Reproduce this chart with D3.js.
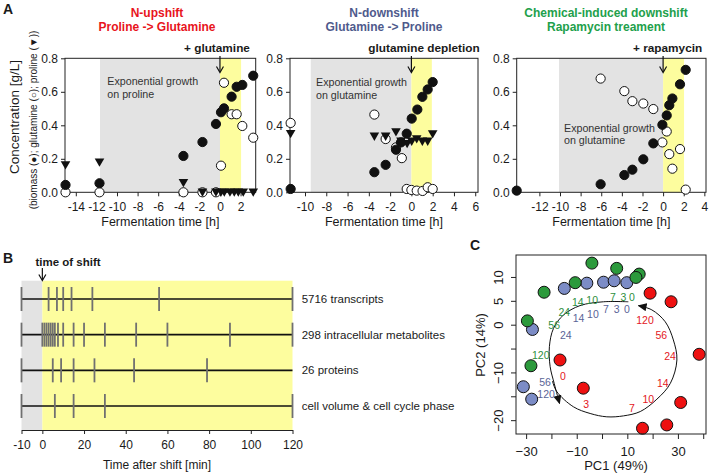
<!DOCTYPE html>
<html><head><meta charset="utf-8">
<script src="https://cdn.jsdelivr.net/npm/d3@7"></script>
<style>body{margin:0;background:#fff}svg{display:block}text{font-family:"Liberation Sans",Arial,sans-serif;fill:#1a1a1a}</style>
</head><body><svg id="c" width="709" height="475"></svg>
<script>
// ---------- Panel A data: [time h, concentration g/L] ----------
const upBiomass   = [[-15,0.044],[-11.7,0.054],[-3.55,0.217],[-1.7,0.30],[-0.39,0.408],[0.1,0.478],[0.39,0.501],[1.13,0.571],[1.62,0.63],[2.17,0.641],[3.23,0.696]];
const upGlutamine = [[-15,0],[-11.7,0],[-3.55,0],[-1.7,0],[-0.39,0],[0.1,0.159],[0.39,0.654],[1.13,0.466],[1.62,0.466],[2.17,0.396],[3.23,0.326]];
const upProline   = [[-15,0.163],[-11.7,0.179],[-3.55,0.057],[-1.7,0],[-0.39,0],[0.1,0],[0.42,0],[0.97,0],[1.39,0],[1.78,0],[2.26,0],[3.23,0]];

const downBiomass   = [[-11.35,0.02],[-3.48,0.12],[-2.42,0.164],[-1.45,0.254],[-0.98,0.298],[-0.44,0.35],[0.03,0.44],[0.56,0.494],[1.03,0.57],[1.53,0.614],[2.0,0.658]];
const downGlutamine = [[-11.35,0.414],[-3.48,0.464],[-2.42,0.318],[-1.45,0.268],[-0.9,0.204],[-0.44,0.02],[0.0,0.014],[0.5,0.01],[1.05,0.008],[1.53,0.03],[2.0,0.02]];
const downProline   = [[-11.35,0.35],[-3.48,0.334],[-2.42,0.334],[-1.45,0.36],[-0.98,0.304],[-0.4,0.29],[0.03,0.304],[0.5,0.318],[1.03,0.304],[1.53,0.304],[2.0,0.348]];

const rapaBiomass   = [[-14.2,0.01],[-6.06,0.048],[-3.76,0.103],[-2.98,0.135],[-1.92,0.197],[-0.95,0.292],[-0.07,0.403],[0.35,0.459],[0.6,0.52],[0.9,0.56],[1.64,0.645],[2.19,0.731]];
const rapaGlutamine = [[-6.06,0.679],[-3.76,0.604],[-2.98,0.544],[-1.92,0.53],[-0.95,0.497],[-0.07,0.298],[0.35,0.363],[0.6,0.228],[0.9,0.141],[1.64,0.258],[2.19,0.016]];

const yTicksA = [0, 0.2, 0.4, 0.6, 0.8];
const xTicksUp = [-14,-12,-10,-8,-6,-4,-2,0,2];
const xTicksDown = [-10,-8,-6,-4,-2,0,2,4,6];
const xTicksRapa = [-12,-10,-8,-6,-4,-2,0,2,4];
const titlesA = [["N-upshift","Proline -> Glutamine"],["N-downshift","Glutamine -> Proline"],["Chemical-induced downshift","Rapamycin treament"]];
const eventsA = ["+ glutamine","glutamine depletion","+ rapamycin"];
const growthText = [["Exponential growth","on proline"],["Exponential growth","on glutamine"],["Exponential growth","on glutamine"]];

// ---------- Panel B data ----------
const bRows = ["5716 transcripts","298 intracellular metabolites","26 proteins","cell volume & cell cycle phase"];
const bTimes = [
  [-10,3,7,10,14,24,56,120],
  [-10,0,1,2,3,4,5,6,7.5,10,15,20,30,45,60,90,120],
  [-10,5,9,15,25,44,79],
  [-10,6,15,30,120]
];
const bTicks = [-10,0,20,40,60,80,100,120];

// ---------- Panel C data: [PC1, PC2] ----------
const pcaGreen = [[-4.0,12.9],[5.8,11.8],[14.7,10.6],[13.4,9.9],[-10.6,8.8],[-22.9,6.8],[-29.5,0.8],[-28.1,-8.6]];
const pcaBlue  = [[-14.9,7.6],[-6.0,8.7],[0.6,8.9],[4.8,9.2],[9.8,8.8],[-27.5,-1.0],[-31.1,-13.0],[-27.8,-15.6]];
const pcaRed   = [[19.0,6.6],[27.3,4.8],[38.4,-6.2],[-16.6,-7.4],[-7.4,-13.3],[31.1,-16.3],[25.6,-21.0],[16.0,-21.7]];
const timeLabels = ["0","3","7","10","14","24","56","120"];
const greenLabelPos = [[11.8,5.7],[8.5,5.7],[4.3,5.7],[-3.9,5.0],[-9.6,4.7],[-14.9,2.5],[-18.9,-0.1],[-24.2,-6.4]];
const blueLabelPos  = [[9.8,3.1],[5.8,3.1],[1.5,3.1],[-3.6,2.1],[-9.3,1.3],[-14.3,-2.3],[-22.5,-12.1],[-22.1,-14.7]];
const redLabelPos   = [[-15.5,-10.9],[-6.3,-16.8],[11.8,-17.5],[18.3,-15.6],[24.0,-12.4],[26.9,-6.7],[23.4,-2.2],[17.0,0.8]];
const arrowLeft  = [[10.4,4.8],[0.6,4.8],[-8.7,4.0],[-15.3,2.0],[-19.2,-0.8],[-20.8,-4.6],[-20.5,-8.8],[-18.9,-12.3],[-16.8,-16.5]];
const arrowRight = [[-19.6,-11.8],[-17.9,-14.0],[-11.3,-17.2],[-4.7,-18.6],[1.9,-19.3],[8.5,-19.1],[15.1,-18.2],[21.7,-15.6],[27.0,-12.3],[29.6,-7.4],[28.2,-3.2],[25.0,0.6],[19.7,3.1],[14.4,4.0]];
const pcaXTicks = [-30,-20,-10,0,10,20,30,40];
const pcaXLabels = [-30,-10,10,30];
const pcaYTicks = [-20,-15,-10,-5,0,5,10];
const pcaYLabels = [-20,-10,0,5,10];

// ---------- drawing ----------
const svg = d3.select("#c");
svg.append("rect").attr("width",709).attr("height",475).attr("fill","#fff");
const GRAY="#e3e3e3", YEL="#fdfd9e";
const RED="#e8141c", BLUE="#4f5a8c", GREEN="#22a04b";
const FF='"Liberation Sans",Arial,sans-serif';
const hyph = d => String(d);

function txt(x,y,s,size,opts={}){
  const t = svg.append("text").attr("x",x).attr("y",y).text(s).style("font-size",size+"px");
  if(opts.anchor) t.attr("text-anchor",opts.anchor);
  if(opts.bold) t.style("font-weight","bold");
  if(opts.fill) t.style("fill",opts.fill);
  if(opts.rotate) t.attr("transform",`rotate(-90,${x},${y})`);
  return t;
}

txt(3,14,"A",14,{bold:true});
txt(3,263,"B",14,{bold:true});
txt(470,250,"C",14,{bold:true});

const yA = d3.scaleLinear().domain([0,0.8]).range([192.3,58.3]);
const panelsA = [
  {range:[65,255.7], domain:[-15.05,3.47], ticks:xTicksUp, gray:-11.65, yel:2.05, col:RED, tcx:157, ecx:-3, g:[107.3,85,98], bio:upBiomass, gln:upGlutamine, pro:upProline},
  {range:[290,478], domain:[-11.41,6.26], ticks:xTicksDown, gray:-9.46, yel:1.92, col:BLUE, tcx:384, ecx:12.6, g:[316,86,98.5], bio:downBiomass, gln:downGlutamine, pro:downProline},
  {range:[516.7,706], domain:[-14.2,4.16], ticks:xTicksRapa, gray:-10.1, yel:2.03, col:GREEN, tcx:606, ecx:4.5, g:[564,132,144], bio:rapaBiomass, gln:rapaGlutamine, pro:[]}
];
const tri = d3.symbol().type(d3.symbolTriangle).size(40);

panelsA.forEach((p,i)=>{
  const x = d3.scaleLinear().domain(p.domain).range(p.range);
  const g = svg.append("g");
  const top=yA(0.8), bot=yA(0);
  g.append("rect").attr("x",x(p.gray)).attr("y",top).attr("width",x(0)-x(p.gray)).attr("height",bot-top).attr("fill",GRAY);
  g.append("rect").attr("x",x(0)).attr("y",top).attr("width",x(p.yel)-x(0)).attr("height",bot-top).attr("fill",YEL);
  g.append("rect").attr("x",p.range[0]).attr("y",top).attr("width",p.range[1]-p.range[0]).attr("height",bot-top).attr("fill","none").attr("stroke","#222").attr("stroke-width",1);
  const ax = g.append("g").attr("transform",`translate(0,${bot})`).call(d3.axisBottom(x).tickValues(p.ticks).tickSize(4).tickPadding(4).tickFormat(hyph));
  const ay = g.append("g").attr("transform",`translate(${p.range[0]},0)`).call(d3.axisLeft(yA).tickValues(yTicksA).tickSize(4).tickPadding(3).tickFormat(d3.format(".1f")));
  [ax,ay].forEach(a=>{a.select(".domain").remove(); a.selectAll("line").attr("stroke","#222"); a.selectAll("text").style("font-size","12px").style("font-family",FF).attr("fill","#1a1a1a");});
  ax.selectAll("text").attr("dy","0.9em");
  txt(p.g[0],p.g[1],growthText[i][0],10.7,{fill:"#333"});
  txt(p.g[0],p.g[2],growthText[i][1],10.7,{fill:"#333"});
  txt(p.tcx,17,titlesA[i][0],12,{anchor:"middle",bold:true,fill:p.col});
  txt(p.tcx,31,titlesA[i][1],12,{anchor:"middle",bold:true,fill:p.col});
  txt(x(0)+p.ecx,52,eventsA[i],11.8,{anchor:"middle",bold:true});
  g.append("line").attr("x1",x(0)).attr("x2",x(0)).attr("y1",56).attr("y2",72).attr("stroke","#111").attr("stroke-width",1.2);
  g.append("path").attr("d",`M${x(0)-3.5},${66.5}L${x(0)},${72.5}L${x(0)+3.5},${66.5}`).attr("fill","none").attr("stroke","#111").attr("stroke-width",1.2);
  g.selectAll(".gl").data(p.gln).join("circle").attr("cx",d=>x(d[0])).attr("cy",d=>yA(d[1])).attr("r",4.6).attr("fill","#fff").attr("stroke","#111").attr("stroke-width",1);
  g.selectAll(".pr").data(p.pro).join("path").attr("d",tri).attr("transform",d=>`translate(${x(d[0])},${yA(d[1])-1}) rotate(180)`).attr("fill","#111");
  g.selectAll(".bi").data(p.bio).join("circle").attr("cx",d=>x(d[0])).attr("cy",d=>yA(d[1])).attr("r",4.6).attr("fill","#111").attr("stroke","#111");
  txt((p.range[0]+p.range[1])/2,226,"Fermentation time [h]",12.5,{anchor:"middle"});
});
txt(19,117,"Concentration [g/L]",13.5,{anchor:"middle",rotate:true});
txt(37,120,"(biomass (\u25CF); glutamine (\u25CB); proline (\u25BC))",10,{anchor:"middle",rotate:true});

// ---------- Panel B ----------
const xB = d3.scaleLinear().domain([-10,120]).range([21.5,292.5]);
const yB = d3.scalePoint().domain(bRows).range([299,406]);
const bTop=280.7, bBot=430;
svg.append("rect").attr("x",xB(-10)).attr("y",bTop).attr("width",xB(0)-xB(-10)).attr("height",bBot-bTop).attr("fill",GRAY);
svg.append("rect").attr("x",xB(0)).attr("y",bTop).attr("width",xB(120)-xB(0)).attr("height",bBot-bTop).attr("fill",YEL);
const axB = svg.append("g").attr("transform",`translate(0,${bBot})`).call(d3.axisBottom(xB).tickValues(bTicks).tickSize(4).tickPadding(4).tickSizeOuter(0).tickFormat(hyph));
axB.select(".domain").attr("stroke","#222");
axB.selectAll("line").attr("stroke","#222");
axB.selectAll("text").style("font-size","12px").style("font-family",FF).attr("fill","#1a1a1a").attr("dy","0.9em");
bRows.forEach((r,i)=>{
  const y=yB(r);
  svg.append("line").attr("x1",xB(-10)).attr("x2",xB(120)).attr("y1",y).attr("y2",y).attr("stroke","#111").attr("stroke-width",1.6);
  svg.selectAll(null).data(bTimes[i]).join("line").attr("x1",d=>xB(d)).attr("x2",d=>xB(d)).attr("y1",y-12).attr("y2",y+12).attr("stroke","#707070").attr("stroke-width",1.8);
  txt(301.7,y+4,r,11.5);
});
txt(68,266,"time of shift",11.5,{anchor:"middle",bold:true});
svg.append("line").attr("x1",xB(0)).attr("x2",xB(0)).attr("y1",268).attr("y2",280).attr("stroke","#111").attr("stroke-width",1.2);
svg.append("path").attr("d",`M${xB(0)-3.5},274.5L${xB(0)},280.5L${xB(0)+3.5},274.5`).attr("fill","none").attr("stroke","#111").attr("stroke-width",1.2);
txt(157,469,"Time after shift [min]",12,{anchor:"middle"});

// ---------- Panel C ----------
const xC = d3.scaleLinear().domain([-34,41.1]).range([516,706]);
const yC = d3.scaleLinear().domain([-22.9,14.6]).range([434,255]);
svg.append("defs").append("marker").attr("id","ah").attr("viewBox","0 0 10 10").attr("refX",9).attr("refY",5)
  .attr("markerWidth",9).attr("markerHeight",9).attr("markerUnits","userSpaceOnUse").attr("orient","auto")
  .append("path").attr("d","M0,0.5L10,5L0,9.5z").attr("fill","#111");
const cl = d3.line().x(d=>xC(d[0])).y(d=>yC(d[1])).curve(d3.curveCatmullRom);
svg.append("path").attr("d",cl(arrowLeft)).attr("fill","none").attr("stroke","#111").attr("stroke-width",1).attr("marker-end","url(#ah)");
svg.append("path").attr("d",cl(arrowRight)).attr("fill","none").attr("stroke","#111").attr("stroke-width",1).attr("marker-end","url(#ah)");

const lab = (pos,col)=>svg.selectAll(null).data(pos).join("text").attr("x",d=>xC(d[0])).attr("y",d=>yC(d[1])+3.5)
  .attr("text-anchor","middle").style("font-size","10.5px").style("fill",col).text((d,i)=>timeLabels[i]);
lab(greenLabelPos,"#2e8f40"); lab(blueLabelPos,"#5a6497"); lab(redLabelPos,"#e3171d");

const dots = (data,col)=>svg.selectAll(null).data(data).join("circle").attr("cx",d=>xC(d[0])).attr("cy",d=>yC(d[1])).attr("r",6).attr("fill",col).attr("stroke","#111").attr("stroke-width",1);
dots(pcaBlue,"#7c8cc6"); dots(pcaGreen,"#2c9a3c"); dots(pcaRed,"#ee1111");

svg.append("rect").attr("x",516).attr("y",255).attr("width",190).attr("height",179).attr("fill","none").attr("stroke","#222").attr("stroke-width",1);
const fmtC = lbls => d => lbls.includes(d) ? (d<0 ? "\u2212"+(-d) : String(d)) : "";
const axCx = svg.append("g").attr("transform","translate(0,434)").call(d3.axisBottom(xC).tickValues(pcaXTicks).tickSize(5).tickPadding(5).tickFormat(fmtC(pcaXLabels)));
const axCy = svg.append("g").attr("transform","translate(516,0)").call(d3.axisLeft(yC).tickValues(pcaYTicks).tickSize(5).tickPadding(4).tickFormat(fmtC(pcaYLabels)));
[axCx,axCy].forEach(a=>{a.select(".domain").remove(); a.selectAll("line").attr("stroke","#222"); a.selectAll("text").style("font-size","13px").style("font-family",FF).attr("fill","#1a1a1a");});
axCx.selectAll("text").attr("dy","0.9em");
axCy.selectAll("text").attr("text-anchor","middle").attr("x",0).attr("y",0).attr("dy",0).attr("transform","translate(-13,0) rotate(-90)");
txt(616,470,"PC1 (49%)",13,{anchor:"middle"});
txt(485,345,"PC2 (14%)",13,{anchor:"middle",rotate:true});
</script></body></html>
